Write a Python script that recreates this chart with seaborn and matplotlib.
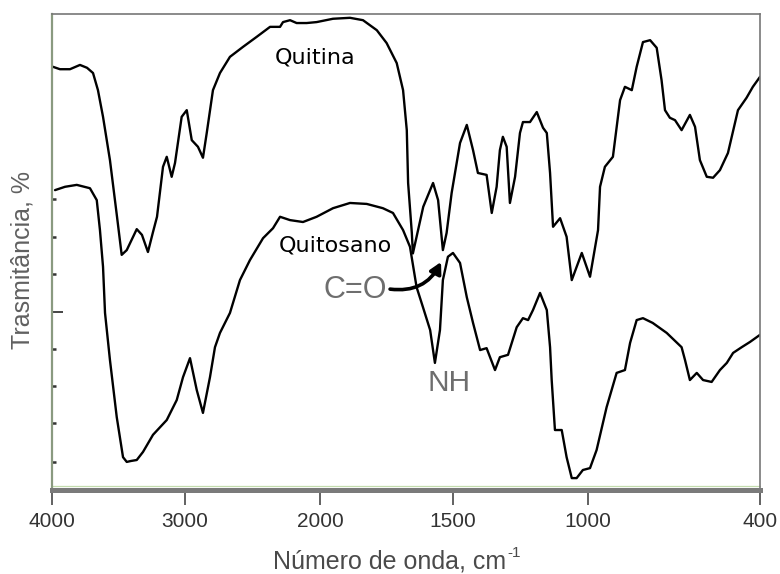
import numpy as np
import pandas as pd
import matplotlib
matplotlib.use("Agg")
import matplotlib.pyplot as plt
import seaborn as sns

# ---------------- data ----------------
quitina_wn = [3990, 3938, 3863, 3788, 3735, 3690, 3653, 3615, 3563, 3510,
              3475, 3437, 3362, 3323, 3278, 3240, 3210, 3165, 3137, 3100,
              3075, 3025, 2987, 2950, 2904, 2867, 2839, 2793, 2741, 2667,
              2570, 2469, 2370, 2296, 2274, 2222, 2173, 2099, 2025, 1951,
              1887, 1838, 1786, 1749, 1711, 1687, 1673, 1668, 1654, 1650,
              1611, 1574, 1555, 1537, 1523, 1504, 1473, 1448, 1425, 1407,
              1375, 1356, 1338, 1326, 1315, 1301, 1289, 1270, 1252, 1241,
              1215, 1190, 1167, 1153, 1141, 1130, 1104, 1080, 1061, 1024,
              994, 966, 959, 942, 914, 889, 872, 848, 831, 809,
              784, 761, 744, 732, 715, 697, 674, 645, 627, 610,
              586, 564, 540, 512, 477, 447, 425, 400]
quitina_T = [88.9, 88.4, 88.4, 89.3, 88.7, 87.6, 84.0, 78.4, 69.3, 57.4,
             49.4, 50.4, 54.8, 53.6, 50.0, 54.2, 57.4, 67.9, 70.0, 65.8,
             68.7, 78.4, 79.8, 73.5, 72.1, 69.8, 75.0, 84.0, 87.6, 91.0,
             93.1, 95.2, 97.3, 97.3, 98.3, 98.7, 98.1, 98.1, 98.3, 99.0,
             99.2, 98.7, 96.6, 93.9, 89.7, 84.0, 75.6, 64.5, 54.0, 49.7,
             59.5, 64.5, 60.9, 50.4, 54.0, 62.4, 72.9, 76.7, 71.4, 66.6,
             66.2, 58.2, 63.7, 71.4, 74.2, 72.1, 60.3, 65.8, 75.0, 77.3,
             77.3, 79.4, 76.1, 75.0, 66.6, 55.3, 57.1, 53.2, 44.1, 49.8,
             44.8, 54.6, 63.7, 67.9, 70.0, 81.9, 84.7, 84.0, 88.9, 94.1,
             94.5, 92.9, 86.1, 79.8, 78.2, 77.7, 75.6, 78.8, 76.3, 69.3,
             65.8, 65.6, 67.2, 70.8, 79.8, 82.4, 84.7, 86.8]

quitosano_wn = [3975, 3900, 3812, 3713, 3662, 3638, 3615, 3600, 3563, 3512,
                3465, 3437, 3405, 3362, 3315, 3240, 3137, 3062, 3015, 2963,
                2913, 2867, 2815, 2778, 2741, 2667, 2593, 2519, 2422, 2348,
                2296, 2222, 2126, 2025, 1951, 1887, 1824, 1763, 1725, 1687,
                1661, 1636, 1612, 1585, 1567, 1548, 1537, 1518, 1499, 1473,
                1448, 1425, 1399, 1375, 1344, 1326, 1296, 1264, 1241, 1222,
                1204, 1178, 1153, 1141, 1135, 1123, 1098, 1080, 1061, 1043,
                1020, 994, 971, 936, 901, 872, 854, 831, 809, 775,
                726, 674, 662, 645, 621, 599, 569, 540, 516, 494,
                464, 435, 400]
quitosano_T = [63.0, 63.7, 64.1, 63.4, 60.9, 54.6, 46.9, 37.2, 27.3, 15.3,
               6.9, 5.9, 6.1, 6.3, 8.0, 11.6, 14.7, 18.9, 23.7, 27.7,
               21.0, 16.2, 23.7, 30.0, 33.0, 37.2, 44.1, 48.3, 52.9, 55.0,
               57.4, 56.7, 56.3, 57.4, 59.2, 60.3, 60.1, 59.2, 58.2, 54.6,
               51.1, 42.6, 38.4, 33.6, 26.7, 33.6, 44.1, 49.0, 49.8, 47.7,
               40.5, 35.1, 29.4, 29.8, 25.2, 27.9, 28.4, 34.2, 36.1, 35.7,
               37.8, 41.4, 37.8, 30.0, 23.1, 12.6, 12.6, 6.9, 2.5, 2.5,
               4.2, 4.6, 8.4, 17.4, 24.6, 25.2, 30.9, 35.7, 36.1, 35.1,
               33.0, 30.0, 27.3, 23.1, 24.6, 23.1, 22.7, 25.2, 26.7, 28.8,
               30.0, 31.1, 32.6]

xtick_values = [4000, 3000, 2000, 1500, 1000, 400]
xtick_labels = ["4000", "3000", "2000", "1500", "1000", "400"]
series_names = ["Quitina", "Quitosano"]
xlabel_main = "Número de onda, cm"
xlabel_sup = "-1"
ylabel_text = "Trasmitância, %"
annot_co = "C=O"
annot_nh = "NH"

# ---------------- style ----------------
sns.set_theme(style="white")
plt.rcParams["font.family"] = ["Liberation Sans", "DejaVu Sans"]

W, H = 780, 574
fig = plt.figure(figsize=(W / 100, H / 100), dpi=100)
fig.patch.set_facecolor("white")

ax_l, ax_r, ax_t, ax_b = 51.7, 760.0, 14.0, 490.0
ax = fig.add_axes([ax_l / W, 1 - ax_b / H, (ax_r - ax_l) / W, (ax_b - ax_t) / H])
ax.set_facecolor("white")

# piecewise axis (scale change as in the original spectrometer plot)
BK = np.array(xtick_values[::-1], dtype=float)          # 400 ... 4000
PX = np.array([760.0, 588.3, 452.7, 320.0, 185.0, 51.7])  # pixel positions of those ticks


def fwd(x):
    x = np.asarray(x, dtype=float)
    y = np.interp(x, BK, PX)
    s0 = (PX[1] - PX[0]) / (BK[1] - BK[0])
    s1 = (PX[-1] - PX[-2]) / (BK[-1] - BK[-2])
    y = np.where(x < BK[0], PX[0] + (x - BK[0]) * s0, y)
    y = np.where(x > BK[-1], PX[-1] + (x - BK[-1]) * s1, y)
    return -y


def inv(u):
    p = -np.asarray(u, dtype=float)
    pr, br = PX[::-1], BK[::-1]
    x = np.interp(p, pr, br)
    s0 = (br[1] - br[0]) / (pr[1] - pr[0])
    s1 = (br[-1] - br[-2]) / (pr[-1] - pr[-2])
    x = np.where(p < pr[0], br[0] + (p - pr[0]) * s0, x)
    x = np.where(p > pr[-1], br[-1] + (p - pr[-1]) * s1, x)
    return x


df = pd.concat([
    pd.DataFrame({"wn": quitina_wn, "T": quitina_T, "muestra": series_names[0]}),
    pd.DataFrame({"wn": quitosano_wn, "T": quitosano_T, "muestra": series_names[1]}),
], ignore_index=True)

sns.lineplot(data=df, x="wn", y="T", hue="muestra", units="muestra",
             estimator=None, sort=False,
             palette={series_names[0]: "black", series_names[1]: "black"},
             linewidth=1.7, legend=False, ax=ax)

ax.set_xscale("function", functions=(fwd, inv))
ax.set_xlim(4000, 400)
ax.set_ylim(0, 100)
ax.set_xlabel("")
ax.set_ylabel("")

# x ticks
ax.set_xticks(xtick_values)
ax.set_xticklabels(xtick_labels)
ax.xaxis.set_minor_locator(matplotlib.ticker.NullLocator())
ax.tick_params(axis="x", which="major", direction="out", length=11, width=1.3,
               color="#555555", labelsize=15, labelcolor="#333333", pad=5,
               bottom=True)

# y ticks: inside, no labels
ax.set_yticks([37.4])
ax.set_yticks([61.1, 53.2, 45.4, 29.6, 21.8, 14.1, 5.9], minor=True)
ax.tick_params(axis="y", which="major", direction="in", length=8, width=1.4,
               color="#444444", left=True, labelleft=False)
ax.tick_params(axis="y", which="minor", direction="in", length=3, width=1.8,
               color="#333333", left=True)

# frame
for side in ["top", "right"]:
    ax.spines[side].set_visible(True)
    ax.spines[side].set_color("#777777")
    ax.spines[side].set_linewidth(1.2)
ax.spines["left"].set_color("#8a9a80")
ax.spines["left"].set_linewidth(1.6)
ax.spines["bottom"].set_color("#7a7a7a")
ax.spines["bottom"].set_linewidth(3.6)
ax.plot([0, 1], [0.0084, 0.0084], transform=ax.transAxes, color="#c3dcae",
        linewidth=0.9, zorder=1, clip_on=False)
ax.grid(False)


def fx(px):
    return px / W


def fy(py):
    return 1 - py / H


# series labels
fig.text(fx(315), fy(57), series_names[0], fontsize=16, color="black",
         family=["DejaVu Sans"], ha="center", va="center")
fig.text(fx(335), fy(246), series_names[1], fontsize=16, color="black",
         family=["DejaVu Sans"], ha="center", va="center")

# annotations
fig.text(fx(355), fy(290), annot_co, fontsize=22, color="#6e6e6e",
         ha="center", va="center")
fig.text(fx(449), fy(383), annot_nh, fontsize=21.5, color="#6e6e6e",
         ha="center", va="center")
ax.annotate("", xy=(1544, 47.9), xytext=(1736, 42.2), xycoords="data",
            arrowprops=dict(arrowstyle="-|>,head_length=0.55,head_width=0.3",
                            connectionstyle="arc3,rad=0.35",
                            color="black", lw=2.6, shrinkA=0, shrinkB=0))

# axis titles
fig.text(fx(23), fy(260), ylabel_text, rotation=90, fontsize=18,
         color="#606060", ha="center", va="center")

renderer = fig.canvas.get_renderer()
t_main = fig.text(0, fy(568), xlabel_main, fontsize=18, color="#4a4a4a",
                  ha="left", va="baseline")
t_sup = fig.text(0, fy(557), xlabel_sup, fontsize=11, color="#4a4a4a",
                 ha="left", va="baseline")
w_main = t_main.get_window_extent(renderer).width
w_sup = t_sup.get_window_extent(renderer).width
x0 = 397 - (w_main + w_sup + 1) / 2
t_main.set_x(fx(x0))
t_sup.set_x(fx(x0 + w_main + 1))

fig.savefig("out.png", dpi=100, facecolor="white")
